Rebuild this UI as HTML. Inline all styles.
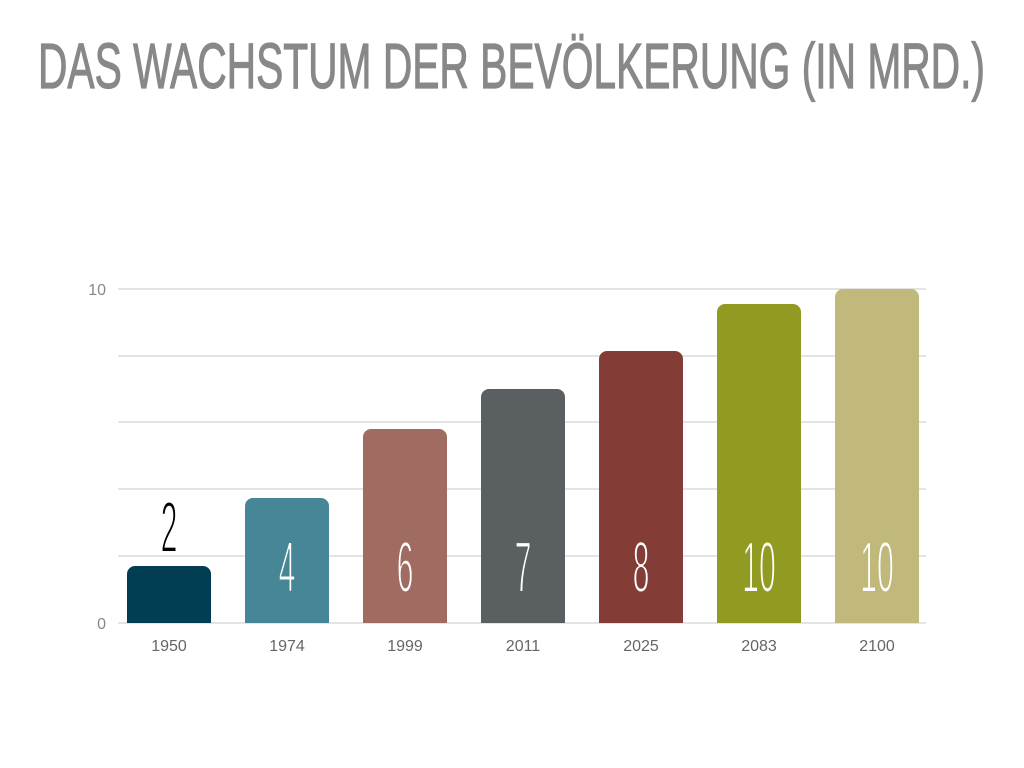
<!DOCTYPE html>
<html><head><meta charset="utf-8"><style>html,body{margin:0;padding:0;background:#fff;}svg{display:block}</style></head>
<body>
<svg width="1024" height="768" xmlns="http://www.w3.org/2000/svg">
<text x="38" y="88" font-family="Liberation Sans Narrow, Liberation Sans, sans-serif" font-size="64" fill="#888" stroke="#888" stroke-width="1.2" textLength="947" lengthAdjust="spacingAndGlyphs">DAS WACHSTUM DER BEVÖLKERUNG (IN MRD.)</text>
<g stroke="#d4d4d4" stroke-width="1.3">
<line x1="118" y1="289" x2="926" y2="289"/><line x1="118" y1="356" x2="926" y2="356"/>
<line x1="118" y1="422" x2="926" y2="422"/><line x1="118" y1="489" x2="926" y2="489"/>
<line x1="118" y1="556" x2="926" y2="556"/><line x1="118" y1="623" x2="926" y2="623"/>
</g>
<g font-family="Liberation Sans, sans-serif" font-size="16" fill="#888">
<text x="106" y="295" text-anchor="end">10</text><text x="106" y="629" text-anchor="end">0</text>
</g>
<g>
<path d="M127,623V574a8,8 0 0 1 8,-8H203a8,8 0 0 1 8,8V623Z" fill="#033d53"/>
<path d="M245,623V506a8,8 0 0 1 8,-8H321a8,8 0 0 1 8,8V623Z" fill="#468696"/>
<path d="M363,623V437a8,8 0 0 1 8,-8H439a8,8 0 0 1 8,8V623Z" fill="#a06c62"/>
<path d="M481,623V397a8,8 0 0 1 8,-8H557a8,8 0 0 1 8,8V623Z" fill="#5a5f61"/>
<path d="M599,623V359a8,8 0 0 1 8,-8H675a8,8 0 0 1 8,8V623Z" fill="#843c37"/>
<path d="M717,623V312a8,8 0 0 1 8,-8H793a8,8 0 0 1 8,8V623Z" fill="#919b22"/>
<path d="M835,623V297a8,8 0 0 1 8,-8H911a8,8 0 0 1 8,8V623Z" fill="#c0b97b"/>
</g>
<g font-family="Liberation Sans, sans-serif" font-size="16" fill="#666" text-anchor="middle">
<text x="169" y="651">1950</text><text x="287" y="651">1974</text><text x="405" y="651">1999</text>
<text x="523" y="651">2011</text><text x="641" y="651">2025</text><text x="759" y="651">2083</text><text x="877" y="651">2100</text>
</g>
<g font-family="Liberation Sans, sans-serif" font-size="72" text-anchor="middle" stroke-width="2">
<text transform="translate(169,552) scale(0.42,1)" fill="#000" stroke="#fff">2</text>
<text transform="translate(287,592) scale(0.42,1)" fill="#fff" stroke="#468696">4</text>
<text transform="translate(405,592) scale(0.42,1)" fill="#fff" stroke="#a06c62">6</text>
<text transform="translate(523,592) scale(0.42,1)" fill="#fff" stroke="#5a5f61">7</text>
<text transform="translate(641,592) scale(0.42,1)" fill="#fff" stroke="#843c37">8</text>
<text transform="translate(759,592) scale(0.42,1)" fill="#fff" stroke="#919b22">10</text>
<text transform="translate(877,592) scale(0.42,1)" fill="#fff" stroke="#c0b97b">10</text>
</g>
</svg>
</body></html>
